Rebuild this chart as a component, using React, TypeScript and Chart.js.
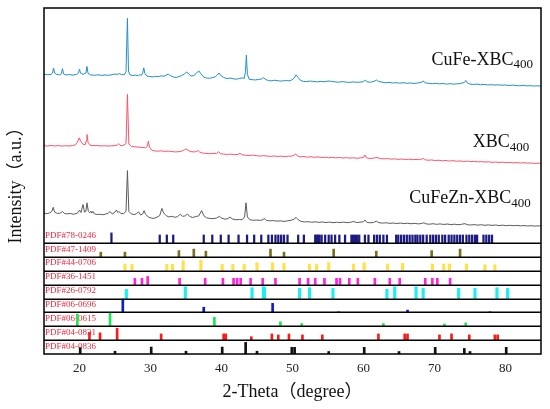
import React, { useEffect, useRef } from "react";
import { Chart, registerables } from "chart.js";

Chart.register(...registerables);

// ---------- data ----------
const xTicks = [20, 30, 40, 50, 60, 70, 80];

const cufeXBC: [number, number][] = [
  [15.0,20.22],[15.5,20.18],[16.0,20.21],[16.2,20.3],[16.35,20.66],[16.5,20.3],[16.8,20.2],[17.2,20.17],[17.45,20.25],[17.6,20.62],[17.75,20.24],[18.1,20.16],[18.6,20.19],[19.1,20.15],[19.6,20.2],[19.85,20.3],[20.0,20.58],[20.15,20.3],[20.5,20.2],[20.9,20.3],[21.05,20.78],[21.2,20.28],[21.6,20.16],[22.1,20.14],[22.6,20.17],[23.1,20.13],[23.6,20.16],[24.1,20.14],[24.6,20.18],[25.0,20.23],[25.3,20.2],[25.6,20.26],[25.9,20.2],[26.3,20.17],[26.55,20.4],[26.75,24.25],[26.9,20.45],[27.1,20.18],[27.5,20.12],[27.9,20.15],[28.3,20.1],[28.5,20.2],[28.7,20.12],[28.9,20.3],[29.05,20.68],[29.2,20.28],[29.5,20.08],[29.9,20.05],[30.3,20.02],[30.7,20.06],[31.1,20.04],[31.5,20.1],[31.9,20.07],[32.2,20.15],[32.5,20.22],[32.8,20.12],[33.2,20.02],[33.6,19.98],[34.0,20.04],[34.4,20.12],[34.8,20.25],[35.1,20.38],[35.4,20.22],[35.7,20.08],[36.1,20.12],[36.5,20.3],[36.8,20.46],[37.1,20.25],[37.5,20.0],[37.9,19.94],[38.3,19.92],[38.7,19.97],[39.1,20.02],[39.4,20.15],[39.65,20.3],[39.9,20.12],[40.3,19.98],[40.8,19.9],[41.2,19.94],[41.7,19.88],[42.1,19.86],[42.5,19.9],[42.9,19.95],[43.2,19.92],[43.38,20.4],[43.5,21.6],[43.65,20.2],[43.9,19.85],[44.3,19.82],[44.8,19.8],[45.2,19.84],[45.6,19.86],[45.9,19.97],[46.2,19.85],[46.6,19.75],[47.0,19.74],[47.5,19.78],[48.0,19.74],[48.5,19.72],[49.0,19.76],[49.5,19.73],[49.9,19.8],[50.2,19.92],[50.5,20.16],[50.8,19.98],[51.1,19.78],[51.5,19.7],[52.0,19.68],[52.5,19.72],[53.0,19.69],[53.5,19.66],[54.0,19.7],[54.5,19.67],[55.0,19.72],[55.5,19.7],[56.0,19.66],[56.5,19.64],[57.0,19.68],[57.5,19.65],[58.0,19.62],[58.5,19.66],[59.0,19.63],[59.5,19.64],[60.0,19.68],[60.25,19.8],[60.5,19.66],[61.0,19.64],[61.5,19.7],[61.8,19.8],[62.1,19.7],[62.6,19.64],[63.1,19.6],[63.6,19.62],[64.1,19.58],[64.6,19.6],[65.1,19.57],[65.6,19.6],[66.1,19.56],[66.6,19.58],[67.1,19.55],[67.6,19.58],[68.1,19.62],[68.4,19.72],[68.7,19.6],[69.2,19.55],[69.7,19.53],[70.2,19.56],[70.7,19.52],[71.2,19.54],[71.7,19.5],[72.2,19.53],[72.7,19.5],[73.2,19.52],[73.7,19.55],[74.2,19.62],[74.4,19.76],[74.6,19.6],[75.0,19.5],[75.5,19.48],[76.0,19.5],[76.5,19.46],[77.0,19.48],[77.5,19.44],[78.0,19.46],[78.5,19.43],[79.0,19.45],[79.5,19.42],[80.0,19.44],[80.5,19.4],[81.0,19.43],[81.5,19.4],[82.0,19.38],[82.5,19.41],[83.0,19.37],[83.5,19.39],[84.0,19.36],[84.5,19.38],[85.0,19.35]
];

const xbc: [number, number][] = [
  [15.0,15.06],[15.5,15.02],[16.0,15.07],[16.5,15.03],[17.0,15.06],[17.5,15.02],[18.0,15.05],[18.5,15.03],[19.0,15.06],[19.4,15.1],[19.7,15.3],[19.95,15.62],[20.2,15.35],[20.5,15.15],[20.8,15.12],[20.95,15.4],[21.05,15.86],[21.2,15.3],[21.5,15.08],[22.0,15.05],[22.5,15.07],[23.0,15.03],[23.5,15.05],[24.0,15.02],[24.5,15.04],[25.0,15.06],[25.3,15.1],[25.5,15.2],[25.7,15.08],[26.1,15.05],[26.55,15.2],[26.75,18.76],[26.95,15.18],[27.3,15.0],[27.8,14.97],[28.3,14.95],[28.8,14.93],[29.3,14.9],[29.55,15.0],[29.7,15.38],[29.85,14.95],[30.2,14.72],[30.6,14.68],[31.0,14.65],[31.5,14.68],[32.0,14.64],[32.5,14.66],[33.0,14.63],[33.5,14.6],[34.0,14.62],[34.5,14.68],[34.8,14.76],[35.0,14.82],[35.3,14.72],[35.7,14.62],[36.2,14.6],[36.5,14.64],[36.7,14.7],[36.9,14.6],[37.3,14.52],[37.8,14.5],[38.3,14.47],[38.8,14.5],[39.3,14.48],[39.6,14.62],[39.85,14.47],[40.3,14.44],[40.8,14.42],[41.3,14.44],[41.8,14.4],[42.3,14.42],[42.6,14.5],[42.9,14.4],[43.4,14.36],[43.9,14.34],[44.4,14.37],[44.9,14.33],[45.4,14.3],[45.9,14.33],[46.4,14.3],[46.9,14.28],[47.4,14.31],[47.9,14.27],[48.4,14.3],[48.9,14.26],[49.4,14.29],[49.9,14.3],[50.2,14.35],[50.45,14.46],[50.7,14.3],[51.1,14.24],[51.6,14.27],[52.1,14.22],[52.6,14.25],[53.1,14.21],[53.6,14.24],[54.1,14.2],[54.6,14.22],[55.1,14.18],[55.6,14.21],[56.1,14.17],[56.6,14.2],[57.1,14.16],[57.6,14.19],[58.1,14.15],[58.6,14.18],[59.1,14.14],[59.6,14.17],[60.0,14.2],[60.2,14.38],[60.4,14.18],[60.9,14.13],[61.4,14.15],[61.9,14.2],[62.4,14.12],[62.9,14.1],[63.4,14.12],[63.9,14.08],[64.4,14.1],[64.9,14.06],[65.4,14.09],[65.9,14.05],[66.4,14.08],[66.9,14.04],[67.4,14.06],[67.9,14.04],[68.2,14.08],[68.4,14.14],[68.6,14.04],[69.1,14.0],[69.6,14.02],[70.1,13.98],[70.6,14.0],[71.1,13.96],[71.6,13.98],[72.1,13.94],[72.6,13.97],[73.1,13.93],[73.6,13.95],[74.1,13.91],[74.6,13.94],[75.1,13.9],[75.6,13.92],[76.1,13.88],[76.6,13.9],[77.1,13.87],[77.6,13.89],[78.1,13.85],[78.6,13.87],[79.1,13.84],[79.6,13.86],[80.1,13.82],[80.6,13.84],[81.1,13.81],[81.6,13.83],[82.1,13.8],[82.6,13.82],[83.1,13.79],[83.6,13.8],[84.1,13.77],[84.6,13.79],[85.0,13.77]
];

const cufeznXBC: [number, number][] = [
  [15.0,10.18],[15.4,10.14],[15.8,10.2],[16.1,10.3],[16.3,10.6],[16.5,10.25],[16.9,10.15],[17.3,10.18],[17.6,10.3],[17.9,10.15],[18.3,10.12],[18.7,10.16],[19.1,10.1],[19.5,10.14],[19.8,10.22],[20.0,10.4],[20.2,10.22],[20.5,10.8],[20.7,10.25],[20.9,10.3],[21.05,10.92],[21.25,10.3],[21.45,10.2],[21.6,10.32],[21.75,10.18],[21.9,10.3],[22.1,10.12],[22.5,10.08],[22.9,10.1],[23.3,10.06],[23.7,10.12],[24.0,10.15],[24.3,10.3],[24.6,10.12],[24.9,10.2],[25.2,10.4],[25.4,10.22],[25.55,10.3],[25.8,10.16],[26.2,10.14],[26.55,10.3],[26.75,13.25],[26.95,10.3],[27.3,10.12],[27.7,10.08],[28.0,10.12],[28.3,10.28],[28.6,10.05],[28.9,10.12],[29.1,10.36],[29.3,10.1],[29.7,9.9],[30.1,9.82],[30.5,9.8],[30.9,9.88],[31.3,10.0],[31.6,10.52],[31.85,10.2],[32.2,10.0],[32.6,9.9],[33.0,9.95],[33.4,9.88],[33.8,9.92],[34.2,10.1],[34.5,9.95],[34.9,9.98],[35.2,10.12],[35.5,9.95],[35.9,9.86],[36.3,9.92],[36.8,9.98],[37.2,10.36],[37.5,10.0],[37.9,9.84],[38.3,9.8],[38.8,9.78],[39.3,9.82],[39.7,9.95],[40.0,9.82],[40.5,9.74],[40.9,9.78],[41.2,9.9],[41.5,9.76],[42.0,9.7],[42.5,9.72],[42.9,9.7],[43.25,9.9],[43.45,10.93],[43.65,9.9],[44.0,9.7],[44.5,9.66],[45.0,9.68],[45.5,9.65],[45.9,9.72],[46.0,9.8],[46.3,9.66],[46.8,9.62],[47.3,9.64],[47.8,9.6],[48.3,9.62],[48.8,9.58],[49.3,9.62],[49.8,9.66],[50.2,9.74],[50.5,9.87],[50.8,9.7],[51.2,9.58],[51.7,9.54],[52.2,9.56],[52.7,9.52],[53.2,9.55],[53.7,9.51],[54.2,9.54],[54.7,9.5],[55.2,9.53],[55.7,9.49],[56.2,9.52],[56.7,9.5],[57.2,9.53],[57.7,9.49],[58.2,9.52],[58.6,9.58],[59.0,9.5],[59.5,9.52],[60.0,9.56],[60.2,9.68],[60.45,9.52],[60.9,9.48],[61.4,9.5],[61.8,9.6],[62.2,9.48],[62.7,9.46],[63.2,9.48],[63.7,9.44],[64.2,9.46],[64.7,9.43],[65.2,9.46],[65.7,9.42],[66.2,9.45],[66.7,9.41],[67.2,9.44],[67.7,9.4],[68.2,9.43],[68.5,9.48],[68.8,9.4],[69.3,9.38],[69.8,9.41],[70.3,9.37],[70.8,9.4],[71.3,9.36],[71.8,9.39],[72.3,9.35],[72.8,9.38],[73.3,9.34],[73.8,9.37],[74.3,9.42],[74.6,9.34],[75.1,9.32],[75.6,9.35],[76.1,9.31],[76.6,9.34],[77.1,9.3],[77.6,9.33],[78.1,9.29],[78.6,9.32],[79.1,9.28],[79.6,9.31],[80.1,9.27],[80.6,9.3],[81.1,9.27],[81.6,9.29],[82.1,9.26],[82.6,9.28],[83.1,9.25],[83.6,9.27],[84.1,9.24],[84.6,9.26],[85.0,9.25]
];

// reference cards: [2-theta, relative height within its strip]
const pdf040836: [number, number][] = [
  [20.1,0.46],[25.0,0.2],[30.1,0.5],[35.0,0.2],[40.1,0.5],[43.4,0.84],[45.0,0.2],[49.9,0.48],[50.3,0.48],[55.1,0.18],[60.1,0.48],[65.0,0.18],[70.1,0.48],[74.2,0.4],[75.0,0.18],[80.1,0.48]
];
const pdf040831: [number, number][] = [
  [21.4,0.57],[22.9,0.53],[25.3,0.86],[31.5,0.45],[40.3,0.45],[40.6,0.45],[44.2,0.25],[47.1,0.45],[48.0,0.38],[49.5,0.45],[51.4,0.38],[54.2,0.38],[62.1,0.45],[65.8,0.45],[66.2,0.45],[70.7,0.38],[72.4,0.45],[74.9,0.38],[78.5,0.38],[78.9,0.38]
];
const pdf060615: [number, number][] = [
  [19.7,0.89],[24.3,0.99],[39.0,0.65],[48.3,0.33],[51.3,0.2],[62.8,0.2],[71.4,0.17],[74.4,0.25]
];
const pdf060696: [number, number][] = [
  [26.1,0.97],[37.5,0.38],[47.2,0.66],[56.5,0.05],[66.2,0.17],[77.8,0.05]
];
const pdf260792: [number, number][] = [
  [26.6,0.67],[34.9,0.86],[44.3,0.79],[45.9,0.86],[46.05,0.8],[51.0,0.74],[52.4,0.79],[55.7,0.74],[63.3,0.67],[64.4,0.86],[67.4,0.86],[68.4,0.74],[73.4,0.74],[75.7,0.74],[78.8,0.79],[80.3,0.74]
];
const pdf361451: [number, number][] = [
  [27.8,0.47],[28.8,0.47],[29.6,0.6],[34.1,0.47],[37.7,0.47],[40.2,0.47],[41.7,0.47],[42.2,0.47],[42.7,0.47],[44.1,0.47],[45.8,0.47],[47.6,0.47],[51.0,0.47],[52.2,0.47],[53.2,0.47],[54.5,0.47],[56.2,0.47],[56.7,0.47],[58.0,0.47],[59.2,0.47],[61.6,0.47],[63.7,0.47],[65.1,0.47],[68.7,0.47],[69.7,0.47],[70.4,0.47],[72.2,0.47]
];
const pdf440706: [number, number][] = [
  [26.4,0.48],[27.4,0.48],[32.3,0.48],[33.1,0.48],[34.6,0.74],[37.1,0.78],[40.1,0.48],[41.6,0.48],[43.2,0.48],[45.0,0.6],[47.2,0.6],[48.8,0.55],[52.4,0.5],[53.4,0.5],[55.1,0.6],[58.6,0.5],[60.1,0.6],[63.4,0.5],[65.5,0.55],[69.7,0.5],[71.3,0.5],[72.1,0.5],[74.5,0.5],[77.1,0.45],[78.5,0.45]
];
const pdf471409: [number, number][] = [
  [23.0,0.36],[26.4,0.36],[34.0,0.47],[36.1,0.58],[37.8,0.43],[46.9,0.58],[48.8,0.36],[55.8,0.58],[61.8,0.43],[69.6,0.47],[73.6,0.58]
];
const pdf780246: [number, number][] = [
  [24.5,0.75],[31.3,0.6],[32.3,0.6],[33.2,0.6],[37.5,0.6],[38.7,0.6],[39.9,0.6],[41.0,0.6],[42.4,0.6],[43.6,0.6],[44.6,0.6],[45.6,0.6],[46.6,0.6],[47.1,0.6],[47.6,0.6],[48.0,0.6],[48.4,0.6],[48.8,0.6],[49.3,0.6],[50.8,0.6],[51.6,0.6],[53.2,0.6],[53.4,0.6],[53.6,0.6],[53.8,0.6],[54.1,0.6],[54.6,0.6],[55.1,0.6],[55.5,0.6],[56.0,0.6],[56.6,0.6],[57.4,0.6],[58.3,0.6],[58.5,0.6],[58.8,0.6],[59.1,0.6],[59.4,0.6],[60.2,0.6],[60.7,0.6],[61.5,0.6],[61.9,0.6],[62.3,0.6],[62.8,0.6],[63.3,0.6],[64.6,0.6],[64.9,0.6],[65.3,0.6],[65.7,0.6],[66.1,0.6],[66.5,0.6],[66.9,0.6],[67.3,0.6],[67.6,0.6],[68.0,0.6],[68.4,0.6],[68.9,0.6],[69.4,0.6],[69.8,0.6],[70.2,0.6],[70.6,0.6],[71.1,0.6],[71.5,0.6],[72.0,0.6],[72.4,0.6],[72.8,0.6],[73.2,0.6],[73.6,0.6],[74.0,0.6],[74.5,0.6],[74.9,0.6],[75.3,0.6],[75.7,0.6],[76.0,0.6],[76.9,0.6],[77.3,0.6],[77.7,0.6],[78.1,0.6]
];

const cardNames = ["PDF#04-0836", "PDF#04-0831", "PDF#06-0615", "PDF#06-0696", "PDF#26-0792", "PDF#36-1451", "PDF#44-0706", "PDF#47-1409", "PDF#78-0246"];
const cardPeaks = [pdf040836, pdf040831, pdf060615, pdf060696, pdf260792, pdf361451, pdf440706, pdf471409, pdf780246];

const seriesMain = ["CuFe-XBC", "XBC", "CuFeZn-XBC"];
const seriesSub = ["400", "400", "400"];

// ---------- styles ----------
const cardColors = ["#111111", "#ff1a1a", "#1ee650", "#0a1ecf", "#1af0f0", "#ff22dd", "#ffe14a", "#77701e", "#1c1c80"];
const cardWidths = [2, 2, 2, 2, 2.5, 2, 2.5, 2, 1.6];
const curveColors = ["#1f8fc6", "#ff5068", "#5a5a5a"];
const tagAnchors = [
  { x: 83.87, y: 20.88 },
  { x: 83.35, y: 14.93 },
  { x: 83.55, y: 10.89 },
];
const SERIF = '"Liberation Serif", "Times New Roman", "Noto Sans CJK SC", serif';

const overlayPlugin = {
  id: "xrdOverlay",
  beforeDatasetsDraw(chart: any) {
    const { ctx, chartArea: a, scales } = chart;
    const y = scales.y;
    ctx.save();
    ctx.font = `9px ${SERIF}`;
    ctx.fillStyle = "#f0283c";
    ctx.textAlign = "left";
    ctx.textBaseline = "middle";
    cardNames.forEach((n, i) => {
      const top = y.getPixelForValue(i + 1);
      ctx.fillText(n, a.left + 1, top + 6);
    });
    ctx.restore();
  },
  afterDatasetsDraw(chart: any) {
    const { ctx, chartArea: a, scales } = chart;
    const x = scales.x;
    const y = scales.y;
    ctx.save();
    ctx.strokeStyle = "#000";
    ctx.lineWidth = 1.5;
    for (let k = 1; k < cardNames.length; k++) {
      const py = Math.round(y.getPixelForValue(k)) + 0.25;
      ctx.beginPath();
      ctx.moveTo(a.left, py);
      ctx.lineTo(a.right, py);
      ctx.stroke();
    }
    ctx.strokeRect(a.left, a.top, a.right - a.left, a.bottom - a.top);

    ctx.fillStyle = "#111";
    seriesMain.forEach((m, i) => {
      const xr = x.getPixelForValue(tagAnchors[i].x);
      const yb = y.getPixelForValue(tagAnchors[i].y);
      ctx.font = `13px ${SERIF}`;
      const sw = ctx.measureText(seriesSub[i]).width;
      ctx.textAlign = "left";
      ctx.textBaseline = "alphabetic";
      ctx.fillText(seriesSub[i], xr - sw, yb + 3.4);
      ctx.font = `18px ${SERIF}`;
      ctx.textAlign = "right";
      ctx.fillText(m, xr - sw, yb);
    });
    ctx.restore();
  },
};

export default function App() {
  const ref = useRef<HTMLCanvasElement | null>(null);

  useEffect(() => {
    document.body.style.margin = "0";
    if (!ref.current) return;
    const curves = [cufeXBC, xbc, cufeznXBC];
    const datasets: any[] = [];
    curves.forEach((c, i) => {
      datasets.push({
        type: "line",
        data: c.map(([t, v]) => ({ x: t, y: v })),
        borderColor: curveColors[i],
        borderWidth: 1,
        pointRadius: 0,
        tension: 0,
        fill: false,
      });
    });
    cardPeaks.forEach((peaks, i) => {
      datasets.push({
        type: "bar",
        data: peaks.map(([t, h]) => ({ x: t, y: [i, i + h] })),
        backgroundColor: cardColors[i],
        borderWidth: 0,
        barThickness: cardWidths[i],
        grouped: false,
      });
    });

    const chart = new Chart(ref.current, {
      type: "bar",
      data: { datasets },
      plugins: [overlayPlugin],
      options: {
        animation: false,
        responsive: true,
        maintainAspectRatio: false,
        layout: { padding: { top: 8, right: 9, left: 0, bottom: 0 } },
        plugins: { legend: { display: false }, tooltip: { enabled: false } },
        scales: {
          x: {
            type: "linear",
            min: 15,
            max: 85,
            offset: false,
            afterBuildTicks: (s: any) => {
              s.ticks = xTicks.map((v) => ({ value: v }));
            },
            afterFit: (s: any) => {
              s.height = 55;
            },
            grid: { display: false, drawTicks: false },
            border: { display: false },
            ticks: {
              color: "#222",
              padding: 7,
              font: { family: SERIF, size: 13 },
            },
            title: {
              display: true,
              text: "2-Theta（degree）",
              color: "#111",
              font: { family: SERIF, size: 18 },
              padding: { top: 0, bottom: 6 },
            },
          },
          y: {
            type: "linear",
            min: 0,
            max: 25,
            afterFit: (s: any) => {
              s.width = 44;
            },
            grid: { display: false, drawTicks: false },
            border: { display: false },
            ticks: { display: false },
            title: {
              display: true,
              text: "Intensity（a.u.）",
              color: "#111",
              font: { family: SERIF, size: 18 },
              padding: { top: 5, bottom: 0 },
            },
          },
        },
      } as any,
    });
    return () => chart.destroy();
  }, []);

  return (
    <div style={{ position: "relative", width: 550, height: 409 }}>
      <canvas ref={ref} />
    </div>
  );
}
